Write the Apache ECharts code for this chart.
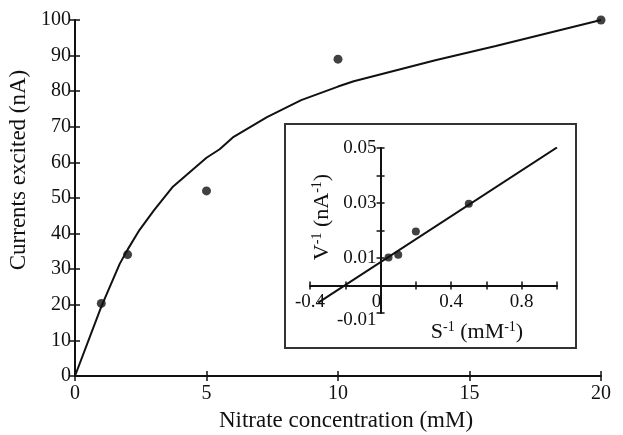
<!DOCTYPE html>
<html>
<head>
<meta charset="utf-8">
<script src="https://cdn.jsdelivr.net/npm/echarts@6/dist/echarts.min.js"></script>
<style>
  html, body { margin: 0; padding: 0; background: #fff; }
  #chart { width: 623px; height: 435px; }
</style>
</head>
<body>
<div id="chart"></div>
<script>
// main plot: measured points
var concX = [1, 2, 5, 10, 20];
var currentY = [20.4, 34.1, 52, 89, 100];
// main plot: fitted curve as drawn
var curveX = [0, 1, 1.7, 2, 2.45, 3, 3.7, 4.25, 5, 5.5, 6, 7.3, 8.6, 10, 10.6, 13.7, 16, 20];
var curveY = [0, 19.5, 31.5, 35.5, 41, 46.5, 53, 56.5, 61.3, 63.7, 67, 72.7, 77.5, 81.3, 82.8, 88.7, 92.7, 100];
// inset: double reciprocal points
var invS = [0.045, 0.1, 0.2, 0.5, 1.0];
var invV = [0.0102, 0.0112, 0.0196, 0.0297, 0.0502];
// inset: fitted line ends
var fitX = [-0.353, 1.0];
var fitY = [-0.0062, 0.0502];

var FONT = '"Liberation Serif", "DejaVu Serif", serif';
var INK = '#111';

function pairs(xs, ys) {
    return xs.map(function (x, i) { return [x, ys[i]]; });
}

var chart = echarts.init(document.getElementById('chart'));

// inset grid box in px, axes are pushed inside it to sit on zero
var IN = { left: 310, right: 66, top: 148, bottom: 122 };
var inW = 623 - IN.left - IN.right;
var inH = 435 - IN.top - IN.bottom;
var yAxisShift = -(0.4 / 1.4) * inW;   // x = 0 line
var xAxisShift = -(0.01 / 0.06) * inH;  // y = 0 line

var supRich = {
    sup: { fontFamily: FONT, fontSize: 14, color: INK, padding: [0, 0, 10, 0] },
    n: { fontFamily: FONT, fontSize: 22, color: INK }
};

function tick(len, inside) {
    return { show: true, inside: !!inside, length: len, lineStyle: { color: INK, width: 1.5 } };
}

var option = {
    animation: false,
    backgroundColor: '#fff',
    grid: [
        { left: 75, right: 22, top: 20, bottom: 59, outerBoundsMode: 'none' },
        { left: IN.left, right: IN.right, top: IN.top, bottom: IN.bottom, outerBoundsMode: 'none' }
    ],
    xAxis: [
        {
            type: 'value', gridIndex: 0, min: 0, max: 20, interval: 5,
            name: 'Nitrate concentration (mM)', nameLocation: 'middle', nameGap: 33,
            nameTextStyle: { fontFamily: FONT, fontSize: 23, color: INK, padding: [0, 0, 0, 16] },
            axisLine: { show: true, onZero: false, lineStyle: { color: INK, width: 2 } },
            axisTick: tick(5),
            axisLabel: { fontFamily: FONT, fontSize: 20, color: INK, margin: 8 },
            splitLine: { show: false }
        },
        {
            type: 'value', gridIndex: 0, min: 0, max: 20, interval: 5, position: 'bottom',
            axisLine: { show: false, onZero: false },
            axisTick: tick(5, true),
            axisLabel: { show: false }, splitLine: { show: false }
        },
        {
            type: 'value', gridIndex: 1, min: -0.4, max: 1.0, interval: 0.2,
            position: 'bottom', offset: xAxisShift,
            name: '{n|S}{sup|-1}{n| (mM}{sup|-1}{n|)}', nameLocation: 'middle', nameGap: 35,
            nameTextStyle: { rich: supRich, padding: [0, 0, 0, 87] },
            axisLine: { show: true, onZero: false, lineStyle: { color: INK, width: 2 } },
            axisTick: tick(4),
            axisLabel: {
                fontFamily: FONT, fontSize: 19, color: INK, margin: 7,
                formatter: function (v) {
                    var k = Math.round(v * 5);
                    if (k % 2 !== 0) return '';
                    if (k === 0) return '{z|0}';
                    return (k / 5).toFixed(1);
                },
                rich: { z: { fontFamily: FONT, fontSize: 19, color: INK, padding: [0, 8, 0, 0] } }
            },
            splitLine: { show: false }
        },
        {
            type: 'value', gridIndex: 1, min: -0.4, max: 1.0, interval: 0.2,
            position: 'bottom', offset: xAxisShift,
            axisLine: { show: false, onZero: false },
            axisTick: tick(4, true),
            axisLabel: { show: false }, splitLine: { show: false }
        }
    ],
    yAxis: [
        {
            type: 'value', gridIndex: 0, min: 0, max: 100, interval: 10,
            name: 'Currents excited (nA)', nameLocation: 'middle', nameGap: 40, nameRotate: 90,
            nameTextStyle: { fontFamily: FONT, fontSize: 23, color: INK, padding: [0, 0, 0, 56] },
            axisLine: { show: true, onZero: false, lineStyle: { color: INK, width: 2 } },
            axisTick: tick(5),
            axisLabel: { fontFamily: FONT, fontSize: 20, color: INK, margin: 4 },
            splitLine: { show: false }
        },
        {
            type: 'value', gridIndex: 0, min: 0, max: 100, interval: 10, position: 'left',
            axisLine: { show: false, onZero: false },
            axisTick: tick(5, true),
            axisLabel: { show: false }, splitLine: { show: false }
        },
        {
            type: 'value', gridIndex: 1, min: -0.01, max: 0.05, interval: 0.01,
            position: 'left', offset: yAxisShift,
            name: '{n|V}{sup|-1}{n| (nA}{sup|-1}{n|)}', nameLocation: 'middle', nameGap: 41, nameRotate: 90,
            nameTextStyle: { rich: supRich, padding: [0, 0, 0, 27] },
            axisLine: { show: true, onZero: false, lineStyle: { color: INK, width: 2 } },
            axisTick: tick(4),
            axisLabel: {
                fontFamily: FONT, fontSize: 19, color: INK, margin: 4,
                formatter: function (v) {
                    var k = Math.round(v * 100);
                    if (Math.abs(k) % 2 !== 1) return '';
                    if (k < 0) return '{low|' + (k / 100).toFixed(2) + '}';
                    return (k / 100).toFixed(2);
                },
                rich: { low: { fontFamily: FONT, fontSize: 19, color: INK, padding: [14, 0, 0, 0] } }
            },
            splitLine: { show: false }
        },
        {
            type: 'value', gridIndex: 1, min: -0.01, max: 0.05, interval: 0.01,
            position: 'left', offset: yAxisShift,
            axisLine: { show: false, onZero: false },
            axisTick: tick(4, true),
            axisLabel: { show: false }, splitLine: { show: false }
        }
    ],
    graphic: [
        {
            type: 'rect', z: 0,
            shape: { x: 285, y: 124, width: 291, height: 224 },
            style: { fill: 'transparent', stroke: '#333', lineWidth: 2 }
        }
    ],
    series: [
        {
            type: 'line', xAxisIndex: 0, yAxisIndex: 0,
            data: pairs(curveX, curveY),
            showSymbol: false, smooth: false,
            lineStyle: { color: INK, width: 2 }
        },
        {
            type: 'scatter', xAxisIndex: 0, yAxisIndex: 0,
            data: pairs(concX, currentY),
            symbolSize: 9, itemStyle: { color: INK }
        },
        {
            type: 'line', xAxisIndex: 2, yAxisIndex: 2,
            data: pairs(fitX, fitY),
            showSymbol: false,
            lineStyle: { color: INK, width: 2 }
        },
        {
            type: 'scatter', xAxisIndex: 2, yAxisIndex: 2,
            data: pairs(invS, invV),
            symbolSize: 8, itemStyle: { color: INK }
        }
    ]
};

chart.setOption(option);
</script>
</body>
</html>
